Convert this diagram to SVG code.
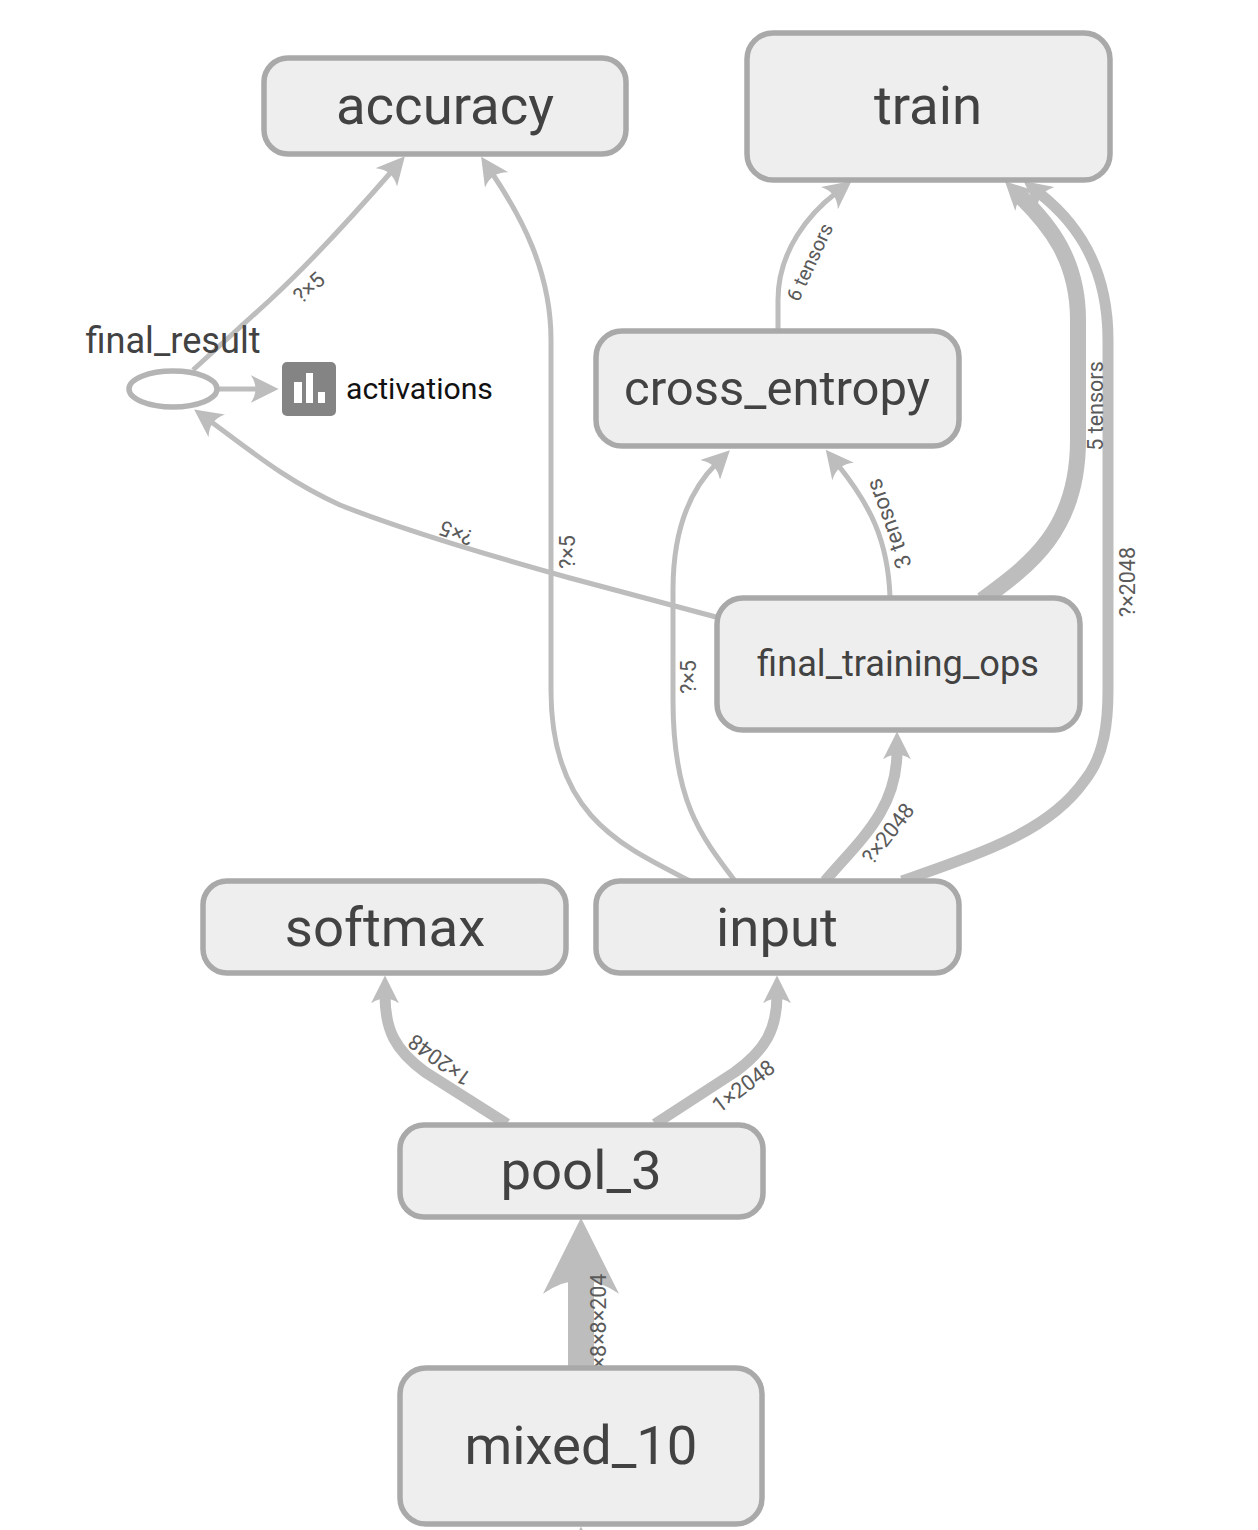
<svg xmlns="http://www.w3.org/2000/svg" width="1258" height="1530" viewBox="0 0 1258 1530">
<style>
.n{fill:#eeeeee;stroke:#a9a9a9;stroke-width:5.5}
.t{font-family:Roboto,"Liberation Sans",sans-serif;fill:#424242;text-anchor:middle}
.e{fill:none;stroke:#bdbdbd;stroke-linecap:butt;stroke-linejoin:round;marker-end:url(#a)}
.s{stroke-width:5}.m{stroke-width:11}.h{stroke-width:16}
.l{font-family:Roboto,"Liberation Sans",sans-serif;font-size:21.5px;fill:#5a5a5a;text-anchor:middle}
</style>
<defs>
<marker id="a" viewBox="0 0 10 10" refX="3" refY="5" markerUnits="userSpaceOnUse" markerWidth="28" markerHeight="28" orient="auto"><path d="M0,0 L10,5 L0,10 Q3.5,5 0,0Z" fill="#bdbdbd"/></marker>
<marker id="b" viewBox="0 0 10 10" refX="3" refY="5" markerUnits="userSpaceOnUse" markerWidth="76" markerHeight="76" orient="auto"><path d="M0,0 L10,5 L0,10 Q3.5,5 0,0Z" fill="#bdbdbd"/></marker>
</defs>
<g id="connectors">
<path class="e s" d="M193,370 L270,300 C300,272 345,225 392,171"/>
<path class="e s" d="M690,881 C620,845 551,815 551,690 L551,340 C551,270 520,215 492,173"/>
<path class="e s" d="M716,617 L570,578 C480,553 403,530 340,505 C285,480 250,450 210,421"/>
<path class="e s" d="M219,389 L259,389"/>
<path class="e s" d="M735,881 C700,835 673,800 673,700 L673,590 C673,530 690,490 716,464"/>
<path class="e s" d="M890,597 C888,540 870,505 838,465"/>
<path class="e s" d="M778,330 L778,300 C778,250 810,213 836,193"/>
<path class="e h" d="M982,600 C1030,565 1078,530 1078,440 L1078,320 C1078,260 1050,225 1019,195"/>
<path class="e m" d="M902,881 C990,850 1050,830 1085,780 C1105,755 1108,720 1108,690 L1108,340 C1108,270 1080,225 1039,193"/>
<path class="e m" d="M825,881 C860,840 897,810 897,751"/>
<path class="e m" d="M507,1124 L425,1072 C395,1050 385,1030 385,995"/>
<path class="e m" d="M655,1124 L735,1072 C765,1050 777,1030 777,995"/>
<path class="e" style="stroke-width:26;marker-end:url(#b)" d="M581,1370 L581,1271"/>
<path class="e s" d="M581,1560 L581,1546"/>
<text class="l" transform="translate(314,293) rotate(-42)">?×5</text>
<text class="l" transform="translate(459,526) rotate(200)">?×5</text>
<text class="l" transform="translate(575,552) rotate(-90)">?×5</text>
<text class="l" transform="translate(696,677) rotate(-90)">?×5</text>
<text class="l" transform="translate(816,265) rotate(-65)" style="font-size:20px">6 tensors</text>
<text class="l" transform="translate(896,521) rotate(-110)" style="font-size:22.5px">3 tensors</text>
<text class="l" transform="translate(1103,406) rotate(-90)">5 tensors</text>
<text class="l" transform="translate(1135,582) rotate(-90)">?×2048</text>
<text class="l" transform="translate(894,838) rotate(-52)">?×2048</text>
<text class="l" transform="translate(444,1054) rotate(216)">1×2048</text>
<text class="l" transform="translate(748,1092) rotate(-37)">1×2048</text>
<text class="l" transform="translate(606,1321) rotate(-90)">×8×8×204</text>
</g>
<g id="accuracy"><rect class="n" x="264" y="58" width="362" height="96" rx="24"/><text class="t" x="445" y="124" font-size="54.5">accuracy</text></g>
<g id="train"><rect class="n" x="747" y="33" width="363" height="147" rx="26"/><text class="t" x="928" y="124" font-size="54.5">train</text></g>
<g id="cross_entropy"><rect class="n" x="596" y="331" width="363" height="115" rx="26"/><text class="t" x="777" y="405" font-size="49">cross_entropy</text></g>
<g id="final_training_ops"><rect class="n" x="717" y="598" width="363" height="132" rx="26"/><text class="t" x="898" y="676" font-size="36.2">final_training_ops</text></g>
<g id="softmax"><rect class="n" x="203" y="881" width="363" height="92" rx="24"/><text class="t" x="385" y="946" font-size="54.5">softmax</text></g>
<g id="input"><rect class="n" x="596" y="881" width="363" height="92" rx="24"/><text class="t" x="777" y="946" font-size="54.5">input</text></g>
<g id="pool_3"><rect class="n" x="400" y="1125" width="363" height="92" rx="24"/><text class="t" x="581" y="1189" font-size="54.5">pool_3</text></g>
<g id="mixed_10"><rect class="n" x="400" y="1368" width="362" height="156" rx="26"/><text class="t" x="581" y="1464" font-size="54.5">mixed_10</text></g>
<g id="final_result"><ellipse cx="173" cy="389" rx="44" ry="18" fill="#fff" stroke="#b4b4b4" stroke-width="5.5"/><text class="t" x="173" y="353" font-size="36.2">final_result</text></g>
<g id="activations"><rect x="282" y="362" width="54" height="54" rx="5" fill="#848484"/><rect x="294" y="382" width="8" height="21" fill="#fff"/><rect x="306" y="373" width="7" height="30" fill="#fff"/><rect x="318" y="392" width="7" height="11" fill="#fff"/><text x="346" y="399" font-size="30.2" font-family="Roboto,'Liberation Sans',sans-serif" fill="#111">activations</text></g>
</svg>
